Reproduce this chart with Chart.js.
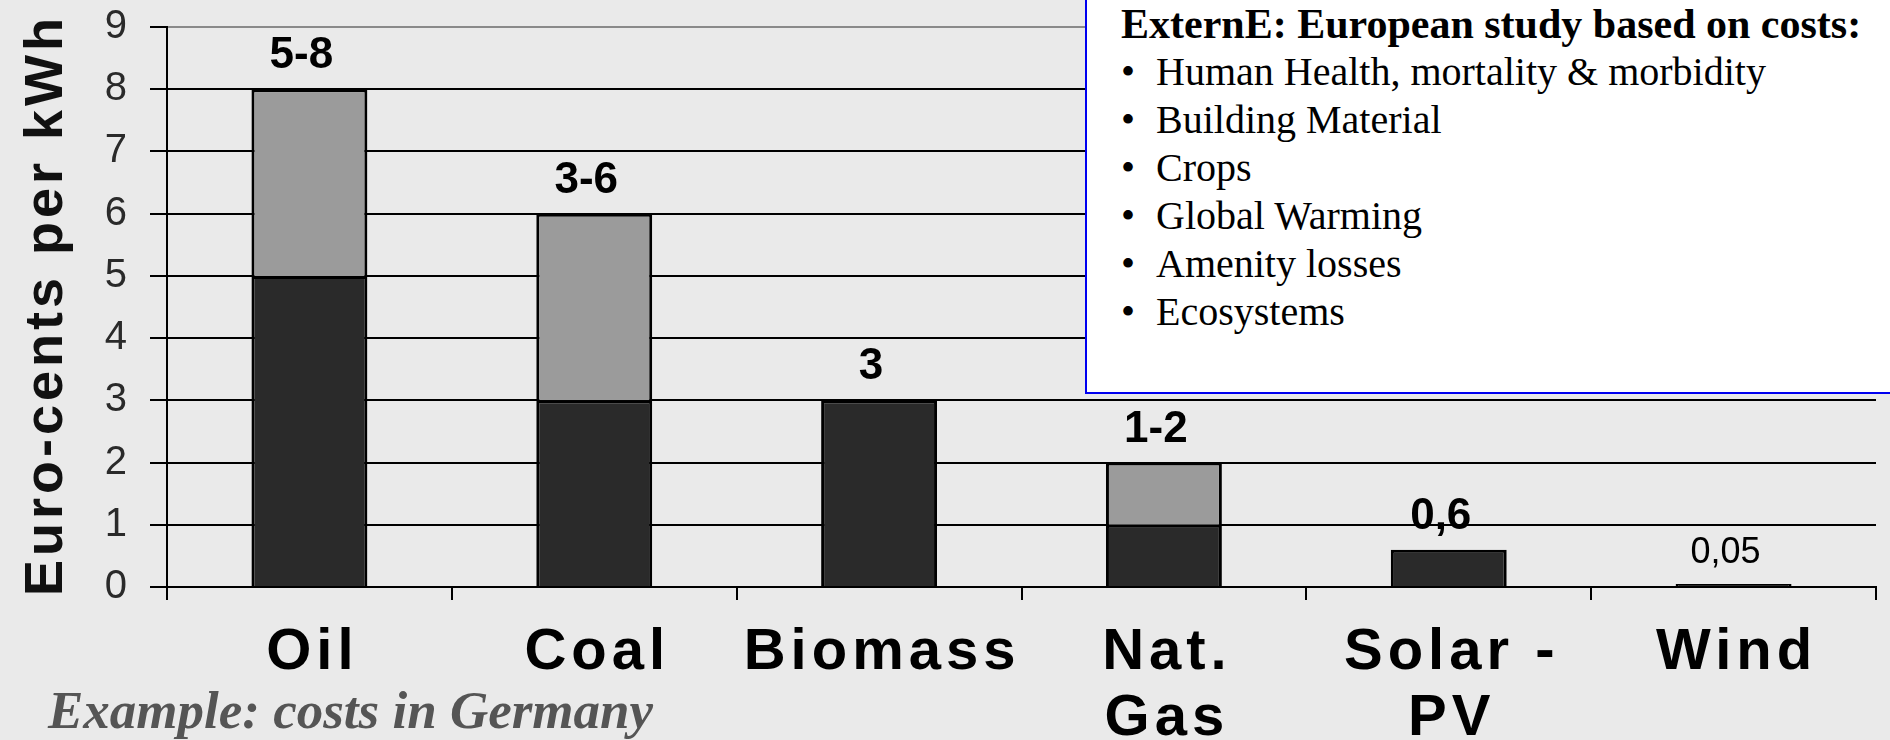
<!DOCTYPE html>
<html>
<head>
<meta charset="utf-8">
<script src="https://cdn.jsdelivr.net/npm/chart.js@4.4.1/dist/chart.umd.min.js"></script>
<style>
html, body { margin: 0; padding: 0; background: #eaeaea; overflow: hidden; }
#wrap { position: relative; width: 1890px; height: 740px; }
#chart { position: absolute; left: 0; top: 0; }
#study {
  position: absolute; left: 1085px; top: -4px; width: 840px; height: 398px;
  box-sizing: border-box; border: 2px solid #0000f0; background: #fff;
  padding: 2px 0 0 34px;
  font-family: "Liberation Serif", "Times New Roman", serif;
  font-size: 40px; line-height: 48px; color: #000; white-space: nowrap;
}
#study .head { font-weight: bold; font-size: 42px; }
#study .dot { display: inline-block; width: 35px; }
#note {
  position: absolute; left: 48px; top: 684px;
  font-family: "Liberation Serif", "Times New Roman", serif;
  font-size: 53px; line-height: 53px; font-weight: bold; font-style: italic;
  color: #555; white-space: nowrap;
}
</style>
</head>
<body>
<div id="wrap">
  <canvas id="chart" width="1890" height="740"></canvas>
  <div id="study"></div>
  <div id="note">Example: costs in Germany</div>
</div>
<script>
// external costs of electricity, euro-cents per kWh
const categories = [['Oil'], ['Coal'], ['Biomass'], ['Nat.', 'Gas'], ['Solar -', 'PV'], ['Wind']];
const baseCost = [5, 3, 3, 1, 0.6, 0.05];   // lower estimate
const rangeCost = [3, 3, 0, 1, 0, 0];       // extra up to the upper estimate
const yMin = 0, yMax = 9, yStep = 1;
const yTitle = 'Euro-cents per kWh';

const studyTitle = 'ExternE: European study based on costs:';
const studyItems = ['Human Health, mortality & morbidity', 'Building Material', 'Crops',
  'Global Warming', 'Amenity losses', 'Ecosystems'];

// text box on the right
let box = document.getElementById('study');
let h = document.createElement('div');
h.className = 'head';
h.textContent = studyTitle;
box.appendChild(h);
studyItems.forEach(t => {
  let d = document.createElement('div');
  let b = document.createElement('span');
  b.className = 'dot';
  b.textContent = '•';
  d.appendChild(b);
  d.appendChild(document.createTextNode(t));
  box.appendChild(d);
});

const SANS = '"Liberation Sans", Arial, Helvetica, sans-serif';

function fmt(v) { return String(v).replace('.', ','); }
function valueLabel(i) {
  let lo = baseCost[i], hi = baseCost[i] + rangeCost[i];
  return rangeCost[i] ? fmt(lo) + '-' + fmt(hi) : fmt(lo);
}

// value labels, category names and the axis title (drawn with letter spacing)
const textPlugin = {
  id: 'textPlugin',
  afterDraw(chart) {
    const ctx = chart.ctx;
    const x = chart.scales.x, y = chart.scales.y;
    ctx.save();
    ctx.fillStyle = '#000';
    ctx.textAlign = 'center';
    ctx.textBaseline = 'middle';

    baseCost.forEach((v, i) => {
      let top = v + rangeCost[i];
      let small = top < 0.1;
      ctx.font = (small ? '500 36px ' : 'bold 44px ') + SANS;
      ctx.fillText(valueLabel(i), x.getPixelForValue(i) - 8, y.getPixelForValue(top) - (small ? 31 : 33));
    });

    ctx.font = 'bold 58px ' + SANS;
    ctx.letterSpacing = '5px';
    categories.forEach((lines, i) => {
      lines.forEach((s, k) => {
        ctx.fillText(s, x.getPixelForValue(i) + 3, y.bottom + 66 + k * 66);
      });
    });

    ctx.font = 'bold 54px ' + SANS;
    ctx.letterSpacing = '4px';
    ctx.fillStyle = '#111';
    ctx.translate(47, (chart.chartArea.top + chart.chartArea.bottom) / 2);
    ctx.rotate(-Math.PI / 2);
    ctx.fillText(yTitle, 2, 0);
    ctx.restore();
  }
};

let ctx1 = document.getElementById('chart').getContext('2d');

const data1 = {
  labels: categories.map(c => c.join(' ')),
  datasets: [
    {
      label: 'low',
      data: baseCost,
      backgroundColor: '#2a2a2a',
      borderColor: '#000',
      borderWidth: 3
    },
    {
      label: 'high',
      data: rangeCost.map(v => v || null),
      backgroundColor: '#9b9b9b',
      borderColor: '#000',
      borderWidth: 3
    }
  ]
};

const config1 = {
  type: 'bar',
  data: data1,
  options: {
    responsive: false,
    animation: false,
    layout: { padding: { top: 27, right: 14, left: 0, bottom: 0 } },
    datasets: { bar: { barPercentage: 0.407, categoryPercentage: 1 } },
    plugins: { legend: { display: false }, tooltip: { enabled: false } },
    scales: {
      x: {
        stacked: true,
        offset: true,
        afterFit: s => { s.height = 153; s.paddingLeft = 0; s.paddingRight = 0; },
        ticks: { display: false },
        border: { display: true, color: '#000', width: 2 },
        grid: {
          offset: true,
          drawOnChartArea: true,
          color: c => c.index === categories.length ? '#8a8a8a' : 'rgba(0,0,0,0)',
          tickColor: '#000',
          lineWidth: 2,
          tickLength: 13
        }
      },
      y: {
        stacked: true,
        min: yMin,
        max: yMax,
        afterFit: s => { s.width = 167; s.paddingTop = 0; s.paddingBottom = 0; },
        ticks: {
          stepSize: yStep,
          padding: 23,
          color: '#2a2a2a',
          font: { family: SANS, size: 40 }
        },
        border: { display: true, color: '#000', width: 2 },
        grid: {
          color: c => c.tick && c.tick.value === yMax ? '#8a8a8a' : '#000',
          tickColor: '#000',
          lineWidth: 2,
          tickLength: 17
        }
      }
    }
  },
  plugins: [textPlugin]
};

var myChart1 = new Chart(ctx1, config1);
</script>
</body>
</html>
